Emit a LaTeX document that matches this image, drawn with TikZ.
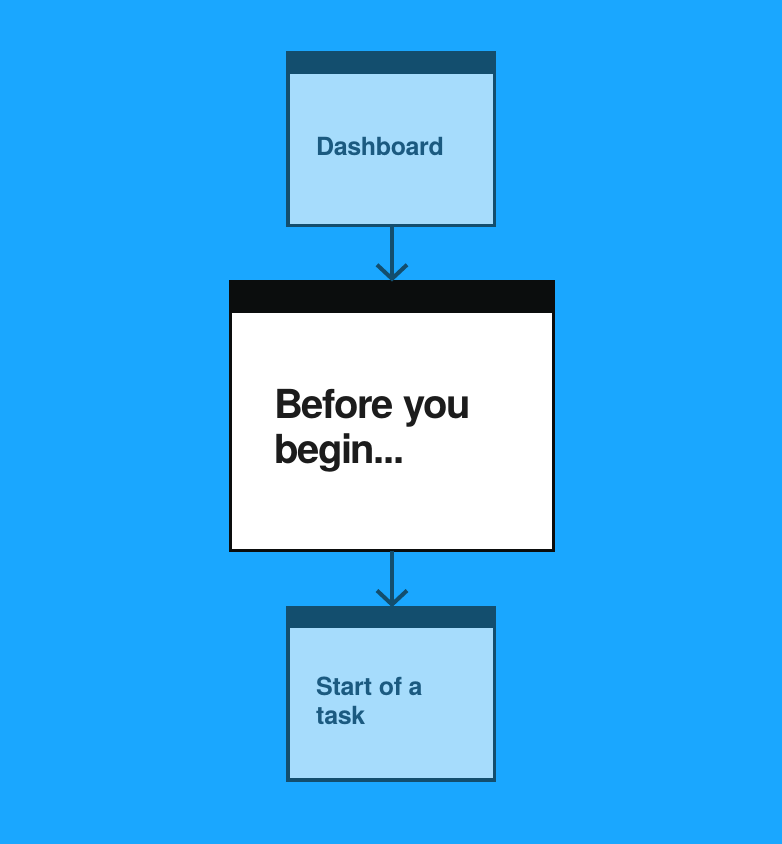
\documentclass[tikz,border=0pt]{standalone}
\usepackage{fontspec}
\setmainfont{TeX Gyre Heros}
\newfontfamily\smallfnt[LetterSpace=-1.5]{TeX Gyre Heros}
\newfontfamily\bigfnt[LetterSpace=-3.5]{TeX Gyre Heros}
\usetikzlibrary{arrows.meta}
\definecolor{bg}{HTML}{1AA7FF}
\definecolor{dkblue}{HTML}{134E6E}
\definecolor{ltblue}{HTML}{A6DCFC}
\definecolor{txtblue}{HTML}{1B5A80}
\definecolor{blk}{HTML}{0B0D0D}
\definecolor{txtblk}{HTML}{1C1C1C}
\tikzset{
  smallbox/.style={draw=dkblue, fill=ltblue, line width=3.5pt, minimum width=206.5pt, minimum height=172.5pt, inner sep=0pt, outer sep=0pt},
  bigbox/.style={draw=blk, fill=white, line width=3pt, minimum width=323pt, minimum height=269pt, inner sep=0pt, outer sep=0pt},
  smalltxt/.style={text=txtblue, font=\smallfnt\fontsize{25}{29}\selectfont\bfseries, align=left, anchor=base west, inner sep=0pt},
  bigtxt/.style={text=txtblk, font=\bigfnt\fontsize{40}{45}\selectfont\bfseries, align=left, anchor=base west, inner sep=0pt},
  flow/.style={draw=dkblue, line width=4pt, -{Straight Barb[length=14pt,width=30pt]}}
}
\begin{document}
\begin{tikzpicture}[x=1pt,y=-1pt]
\fill[bg] (0,0) rectangle (782,844);
\useasboundingbox (0,0) rectangle (782,844);
% top box
\node[smallbox] (dash) at (391,139) {};
\fill[dkblue] (dash.north west) rectangle ([yshift=-21.25pt]dash.north east);
\node[smalltxt] (dashtxt) at (316,155) {Dashboard};
% middle box
\node[bigbox] (before) at (392,416) {};
\fill[blk] (before.north west) rectangle ([yshift=-31.5pt]before.north east);
\node[bigtxt] (beforetxt) at (274,463) {Before you\\begin...};
% bottom box
\node[smallbox] (task) at (391,693.5) {};
\fill[dkblue] (task.north west) rectangle ([yshift=-20.25pt]task.north east);
\node[smalltxt] (tasktxt) at (316,724) {Start of a\\task};
% arrows
\draw[flow] (dash.south -| before.north) -- (before.north);
\draw[flow] (before.south) -- (task.north -| before.south);
\end{tikzpicture}
\end{document}
